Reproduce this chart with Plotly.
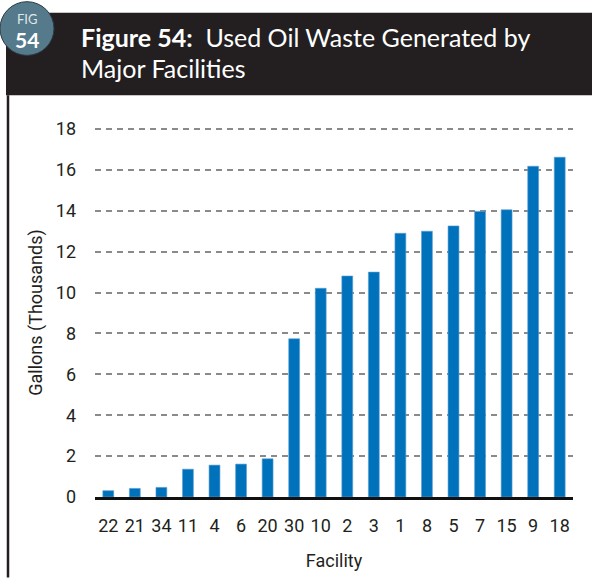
import plotly.graph_objects as go

facilities = ["22", "21", "34", "11", "4", "6", "20", "30", "10", "2", "3", "1", "8", "5", "7", "15", "9", "18"]
gallons_thousands = [0.31, 0.42, 0.47, 1.36, 1.56, 1.61, 1.87, 7.74, 10.21, 10.81, 11.0, 12.9, 13.0, 13.26, 13.97, 14.05, 16.18, 16.62]
y_ticks = [0, 2, 4, 6, 8, 10, 12, 14, 16, 18]

W, H = 592, 580
L, R, T, B = 95, 19, 128, 81
PW, PH = W - L - R, H - T - B


def px(x):
    return (x - L) / PW


def py(y):
    return (H - B - y) / PH


fig = go.Figure()
fig.add_trace(go.Bar(
    x=facilities, y=gallons_thousands,
    marker=dict(color="#0071bb", line=dict(color="#5aa0d6", width=0.6)),
    width=0.41,
))

shapes = [
    dict(type="rect", xref="paper", yref="paper", x0=px(6), x1=px(592), y0=py(95), y1=py(12),
         fillcolor="#231f20", line=dict(width=0), layer="above"),
    dict(type="circle", xref="paper", yref="paper", x0=px(0), x1=px(54), y0=py(55), y1=py(1),
         fillcolor="#557a8b", line=dict(color="#2a3a42", width=1), layer="above"),
    dict(type="line", xref="paper", yref="paper", x0=px(8), x1=px(8), y0=py(95), y1=py(580),
         line=dict(color="#231f20", width=2.5), layer="above"),
]

annotations = [
    dict(text="FIG", x=px(27), y=py(18), xref="paper", yref="paper", showarrow=False,
         font=dict(family="Lato", size=13, color="#dfe7ea"), xanchor="center", yanchor="middle"),
    dict(text="<b>54</b>", x=px(27), y=py(39), xref="paper", yref="paper", showarrow=False,
         font=dict(family="Lato", size=21, color="white"), xanchor="center", yanchor="middle"),
    dict(text="<b>Figure 54:</b>  Used Oil Waste Generated by", x=px(79), y=py(37), xref="paper", yref="paper",
         showarrow=False, font=dict(family="Lato", size=25, color="white"), xanchor="left", yanchor="middle"),
    dict(text="Major Facilities", x=px(79), y=py(68), xref="paper", yref="paper",
         showarrow=False, font=dict(family="Lato", size=25, color="white"), xanchor="left", yanchor="middle"),
]

fig.update_layout(
    width=W, height=H,
    margin=dict(l=L, r=R, t=T, b=B, pad=0),
    paper_bgcolor="white", plot_bgcolor="white",
    showlegend=False,
    shapes=shapes, annotations=annotations,
    font=dict(family="Roboto", size=18, color="#231f20"),
    xaxis=dict(
        type="category", range=[-0.5, 17.5],
        showline=True, linecolor="#111111", linewidth=3,
        showgrid=False, ticks="", ticklen=0,
        tickfont=dict(family="Roboto", size=18, color="#231f20"),
        ticklabelstandoff=10,
        title=dict(text="Facility", font=dict(family="Roboto", size=18, color="#231f20"), standoff=20),
    ),
    yaxis=dict(
        range=[0, 18.05], tickvals=y_ticks, ticktext=[str(v) for v in y_ticks],
        showgrid=True, gridcolor="#8a8a8a", gridwidth=2, griddash="6px,5px",
        zeroline=False, showline=False, ticks="",
        tickfont=dict(family="Roboto", size=18, color="#231f20"),
        ticklabelstandoff=18,
        title=dict(text="Gallons (Thousands)", font=dict(family="Roboto", size=18, color="#231f20"), standoff=8),
    ),
)

fig.write_html("out.html", config={"displayModeBar": False},
               post_script="document.body.style.margin='0';document.body.style.padding='0';")
